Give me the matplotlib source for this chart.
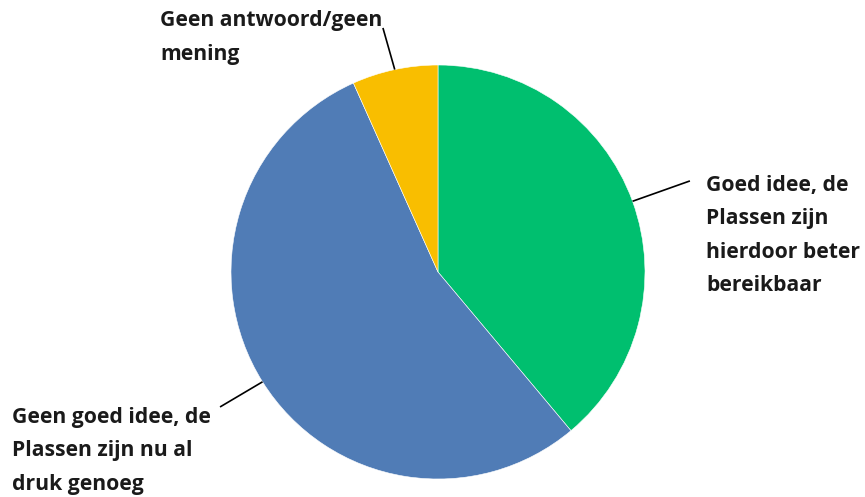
import numpy as np
import matplotlib
matplotlib.use("Agg")
import matplotlib.pyplot as plt

labels = ["Goed idee, de\nPlassen zijn\nhierdoor beter\nbereikbaar",
          "Geen goed idee, de\nPlassen zijn nu al\ndruk genoeg",
          "Geen antwoord/geen\nmening"]
values = [38.9, 54.4, 6.7]
colors = ["#00BF6F", "#507CB6", "#F9BE00"]

W, H = 865, 497
fig = plt.figure(figsize=(W / 100, H / 100), dpi=100)
cx, cy, R = 438, 272, 207
ax = fig.add_axes([(cx - R) / W, (H - cy - R) / H, 2 * R / W, 2 * R / H])

wedges, _ = ax.pie(values, colors=colors, startangle=90, counterclock=False,
                   radius=1, wedgeprops=dict(edgecolor="white", linewidth=0.4))
ax.set_xlim(-1, 1)
ax.set_ylim(-1, 1)
ax.set_aspect("equal")
ax.axis("off")

# label layout (data units, radius = 1)
line_end = [(1.217, 0.440), (-1.053, -0.652), (-0.266, 1.179)]
text_pos = [(1.295, 0.176), (-2.058, -0.864), (-1.343, 1.133)]

for w, lab, le, tp in zip(wedges, labels, line_end, text_pos):
    mid = np.deg2rad((w.theta1 + w.theta2) / 2)
    x0, y0 = np.cos(mid), np.sin(mid)
    ax.plot([x0, le[0]], [y0, le[1]], color="black", lw=1.2, clip_on=False,
            solid_capstyle="butt")
    ax.text(tp[0], tp[1], lab, ha="left", va="center", fontsize=15.2,
            fontweight="bold", family=["Open Sans", "DejaVu Sans"],
            linespacing=1.78, color="#1a1a1a", clip_on=False)

fig.savefig("out.png", dpi=100)
